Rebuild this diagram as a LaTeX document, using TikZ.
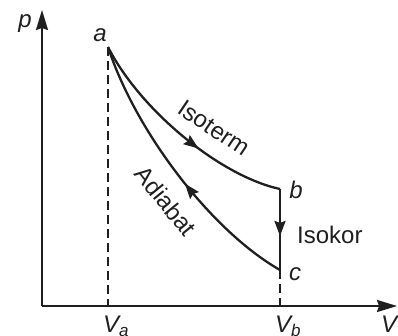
\documentclass[tikz,border=0pt]{standalone}
\usepackage{fontspec}
\setmainfont{Liberation Sans}
\usetikzlibrary{arrows.meta,decorations.markings}
\begin{document}
\begin{tikzpicture}[x=1pt,y=-1pt,
  ink/.style={draw=black!88},
  curve/.style={ink,line width=2.3pt},
  axis/.style={ink,line width=1.9pt,-{Stealth[length=20pt,width=12pt,inset=2pt]}},
  guide/.style={ink,line width=1.4pt,dash pattern=on 9pt off 5pt},
  lbl/.style={font=\fontsize{24}{24}\selectfont\itshape,inner sep=0pt,text=black!88},
  txt/.style={font=\fontsize{24}{24}\selectfont,inner sep=0pt,text=black!88},
  midarrow/.style={postaction={decorate},decoration={markings,
    mark=at position #1 with {\arrow{Stealth[length=15pt,width=11pt,inset=2pt]}}}}
]
\useasboundingbox (0,0) rectangle (398,335);
\clip (0,0) rectangle (398,335);
% key points
\coordinate (O) at (42,306);
\coordinate (ytip) at (42,10);
\coordinate (xtip) at (397,306);
\coordinate (a) at (108,47);
\coordinate (b) at (280,189);
\coordinate (c) at (280,270);
\coordinate (Va) at (108,306);
\coordinate (Vb) at (280,306);
% axes
\draw[axis] (O) -- (ytip);
\draw[axis] (O) -- (xtip);
% guides
\draw[guide] (a) -- (Va);
\draw[guide] (c) -- (Vb);
% isotherm a -> b
\draw[curve,midarrow=0.6] (a) .. controls (140,110) and (220,176) .. (b);
% isochore b -> c
\draw[curve,midarrow=0.58] (b) -- (c);
% adiabat c -> a
\draw[curve,midarrow=0.45] (c) .. controls (210,230) and (135,130) .. (a);
% labels
\node[lbl,anchor=base] (lp) at (25,27) {p};
\node[lbl,anchor=base] (la) at (100,41) {a};
\node[lbl,anchor=base] (lb) at (296,198) {b};
\node[lbl,anchor=base] (lc) at (295,280) {c};
\node[txt,anchor=base west] (liso) at (297,243) {Isokor};
\node[txt,rotate=-34] (lit) at (214,128) {Isoterm};
\node[txt,rotate=-51] (lad) at (166,201) {Adiabat};
\node[lbl,anchor=base west] (lva) at (103,332) {V\raisebox{-0.35ex}{\fontsize{17}{17}\selectfont a}};
\node[lbl,anchor=base west] (lvb) at (275,332) {V\raisebox{-0.35ex}{\fontsize{17}{17}\selectfont b}};
\node[lbl,anchor=base west] (lv) at (381,332) {V};
\end{tikzpicture}
\end{document}
